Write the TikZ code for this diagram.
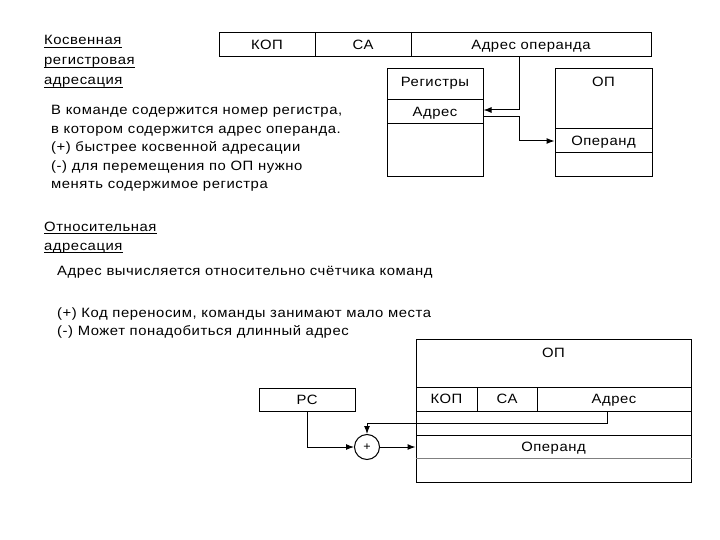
\documentclass[tikz,border=0pt]{standalone}
\usepackage{fontspec}
\setmainfont{Liberation Sans}[FakeStretch=1.1,LetterSpace=4]
\usetikzlibrary{arrows.meta}
\begin{document}
\begin{tikzpicture}[x=1pt,y=-1pt,
  every node/.style={font=\fontsize{13.5}{19}\selectfont},
  cell/.style={draw, line width=1pt, inner sep=0pt, text height=9.5pt, text depth=0pt},
  lbl/.style={inner sep=0pt, text height=9.5pt, text depth=0pt},
  txt/.style={inner sep=0pt, anchor=base west},
  uline/.style={line width=0.9pt},
  conn/.style={line width=1pt},
  arr/.style={conn, -{Latex[length=8pt,width=6pt]}}]
\useasboundingbox (0,0) rectangle (720,540);
% ---------- top part ----------
\node[txt] (h1a) at (44,44.5) {Косвенная};
\node[txt] (h1b) at (44,64.5) {регистровая};
\node[txt] (h1c) at (44,84.5) {адресация};
\foreach \n in {h1a,h1b,h1c}
  \draw[uline] ([yshift=-2.5pt]\n.base west) -- ([yshift=-2.5pt]\n.base east);
\node[txt] (t1a) at (51,115) {В команде содержится номер регистра,};
\node[txt] (t1b) at (51,133.5) {в котором содержится адрес операнда.};
\node[txt] (t1c) at (51,152) {(+) быстрее косвенной адресации};
\node[txt] (t1d) at (51,170.5) {(-) для перемещения по ОП нужно};
\node[txt] (t1e) at (51,189) {менять содержимое регистра};
% instruction bar
\node[cell, minimum width=96pt, minimum height=24pt] (kop) at (267,45) {КОП};
\node[cell, minimum width=96pt, minimum height=24pt] (sa) at (363,45) {СА};
\node[cell, minimum width=240pt, minimum height=24pt] (ao) at (531,45) {Адрес операнда};
% registers
\node[cell, minimum width=96pt, minimum height=31pt] (regh) at (435,84.5) {};
\node[lbl] (regt) at (435,82) {Регистры};
\node[cell, minimum width=96pt, minimum height=24pt] (rega) at (435,112) {Адрес};
\node[cell, minimum width=96pt, minimum height=53pt] (regb) at (435,150.5) {};
% OP
\node[cell, minimum width=97pt, minimum height=60pt] (oph) at (603.5,99) {};
\node[lbl] (opt) at (603.5,82) {ОП};
\node[cell, minimum width=97pt, minimum height=24pt] (opo) at (603.5,141) {Операнд};
\node[cell, minimum width=97pt, minimum height=24pt] (opb) at (603.5,165) {};
% connectors
\coordinate (c1) at (519,110);
\coordinate (c2) at (519,117);
\coordinate (c3) at (519,141);
\draw[arr] (ao.south -| c1) -- (c1) -- (c1 -| rega.east);
\draw[arr] (rega.east |- c2) -- (c2) -- (c3) -- (opo.west);
% ---------- bottom part ----------
\node[txt] (h2a) at (44,231) {Относительная};
\node[txt] (h2b) at (44,250) {адресация};
\foreach \n in {h2a,h2b}
  \draw[uline] ([yshift=-2.5pt]\n.base west) -- ([yshift=-2.5pt]\n.base east);
\node[txt] (t2) at (57,275.5) {Адрес вычисляется относительно счётчика команд};
\node[txt] (t3a) at (57,317.5) {(+) Код переносим, команды занимают мало места};
\node[txt] (t3b) at (57,335.5) {(-) Может понадобиться длинный адрес};
% OP memory
\node[cell, minimum width=275pt, minimum height=48pt] (mh) at (553.5,363) {};
\node[lbl] (mt) at (553.5,353) {ОП};
\node[cell, minimum width=61pt, minimum height=24pt] (mkop) at (446.5,399) {КОП};
\node[cell, minimum width=60pt, minimum height=24pt] (msa) at (507,399) {СА};
\node[cell, minimum width=154pt, minimum height=24pt] (madr) at (614,399) {Адрес};
\node[cell, minimum width=275pt, minimum height=24pt] (mgap) at (553.5,423) {};
\node[cell, minimum width=275pt, minimum height=47pt] (mop) at (553.5,458.5) {};
\node[lbl] (mopt) at (553.5,447) {Операнд};
\draw[line width=0.9pt, gray] (mop.west |- 0,458) -- (mop.east |- 0,458);
% PC and adder
\node[cell, minimum width=96pt, minimum height=23pt] (pc) at (307,399.5) {РС};
\node[draw, circle, line width=1pt, minimum size=25pt, inner sep=0pt, font=\fontsize{11.5}{13}\selectfont] (sum) at (367,447) {+};
\coordinate (p1) at (307,447);
\coordinate (a1) at (607,423);
\draw[arr] (pc.south) -- (p1) -- (sum.west);
\draw[arr] (sum.east) -- (sum.east -| mop.west);
\draw[arr] (madr.south -| a1) -- (a1) -- (a1 -| sum.north) -- (sum.north);
\end{tikzpicture}
\end{document}
